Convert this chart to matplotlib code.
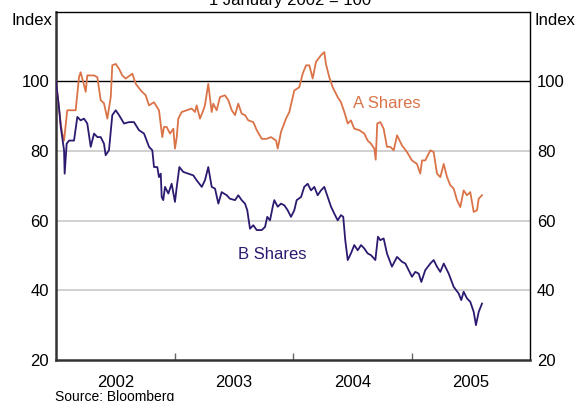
import numpy as np
import matplotlib
matplotlib.use('Agg')
import matplotlib.pyplot as plt

plt.rcParams['font.family'] = ['Liberation Sans', 'DejaVu Sans']

# dates as decimal years, values indexed to 1 Jan 2002 = 100
a_t = [2002.000, 2002.040, 2002.053, 2002.068, 2002.095, 2002.166, 2002.194, 2002.208,
       2002.251, 2002.264, 2002.321, 2002.349, 2002.377, 2002.405, 2002.433, 2002.462,
       2002.475, 2002.504, 2002.532, 2002.559, 2002.588, 2002.644, 2002.673, 2002.715,
       2002.757, 2002.785, 2002.827, 2002.869, 2002.897, 2002.911, 2002.934, 2002.962,
       2002.990, 2003.004, 2003.019, 2003.032, 2003.061, 2003.103, 2003.145, 2003.173,
       2003.187, 2003.215, 2003.243, 2003.257, 2003.285, 2003.300, 2003.314, 2003.327,
       2003.356, 2003.384, 2003.426, 2003.454, 2003.483, 2003.511, 2003.538, 2003.567,
       2003.595, 2003.623, 2003.665, 2003.694, 2003.736, 2003.778, 2003.814, 2003.857,
       2003.871, 2003.899, 2003.941, 2003.969, 2004.011, 2004.053, 2004.082, 2004.110,
       2004.138, 2004.166, 2004.194, 2004.236, 2004.264, 2004.278, 2004.306, 2004.335,
       2004.377, 2004.405, 2004.433, 2004.462, 2004.489, 2004.517, 2004.559, 2004.602,
       2004.630, 2004.658, 2004.686, 2004.698, 2004.711, 2004.737, 2004.765, 2004.793,
       2004.821, 2004.850, 2004.878, 2004.920, 2004.962, 2005.004, 2005.046, 2005.074,
       2005.089, 2005.116, 2005.159, 2005.187, 2005.215, 2005.243, 2005.272, 2005.300,
       2005.327, 2005.356, 2005.384, 2005.412, 2005.440, 2005.468, 2005.496, 2005.525,
       2005.553, 2005.567, 2005.595]
a_val = [100.0, 87.9, 85.0, 83.0, 91.7, 91.7, 101.2, 102.6,
         97.0, 101.7, 101.7, 101.2, 94.6, 93.7, 89.3, 95.5,
         104.6, 105.0, 103.6, 101.7, 100.8, 102.2, 99.3, 97.4,
         96.0, 93.1, 94.0, 91.7, 84.0, 86.9, 86.9, 85.0,
         86.4, 80.7, 84.0, 89.3, 91.2, 91.7, 92.2, 91.2,
         93.1, 89.3, 91.7, 93.1, 99.3, 95.0, 91.2, 93.6,
         91.7, 95.5, 96.0, 94.6, 91.7, 90.3, 93.6, 90.7,
         90.3, 88.8, 88.3, 86.0, 83.5, 83.5, 84.0, 83.0,
         80.7, 85.5, 89.3, 91.2, 97.4, 98.3, 102.2, 104.6,
         104.6, 100.8, 105.6, 107.5, 108.4, 105.0, 101.2, 98.3,
         95.5, 94.0, 91.2, 87.9, 88.8, 86.4, 86.0, 85.0,
         83.0, 82.1, 80.7, 77.5, 87.9, 88.3, 86.4, 81.2,
         81.2, 80.2, 84.5, 81.6, 79.7, 77.3, 76.3, 73.5,
         77.3, 77.3, 80.2, 79.7, 73.5, 72.5, 76.3, 72.5,
         70.2, 69.2, 65.9, 63.9, 68.7, 67.3, 68.2, 62.5,
         63.0, 66.3, 67.3]

b_t = [2002.000, 2002.025, 2002.040, 2002.068, 2002.073, 2002.090, 2002.110, 2002.152,
       2002.180, 2002.208, 2002.236, 2002.264, 2002.293, 2002.321, 2002.349, 2002.377,
       2002.405, 2002.419, 2002.447, 2002.475, 2002.504, 2002.532, 2002.574, 2002.616,
       2002.658, 2002.700, 2002.743, 2002.785, 2002.813, 2002.827, 2002.855, 2002.869,
       2002.884, 2002.892, 2002.905, 2002.920, 2002.948, 2002.976, 2003.004, 2003.019,
       2003.041, 2003.074, 2003.116, 2003.159, 2003.187, 2003.230, 2003.257, 2003.285,
       2003.314, 2003.342, 2003.370, 2003.398, 2003.441, 2003.468, 2003.511, 2003.538,
       2003.567, 2003.595, 2003.614, 2003.637, 2003.665, 2003.694, 2003.736, 2003.764,
       2003.783, 2003.806, 2003.829, 2003.842, 2003.871, 2003.899, 2003.927, 2003.955,
       2003.983, 2004.011, 2004.031, 2004.068, 2004.095, 2004.124, 2004.152, 2004.180,
       2004.208, 2004.236, 2004.264, 2004.293, 2004.321, 2004.349, 2004.377, 2004.405,
       2004.424, 2004.441, 2004.462, 2004.489, 2004.517, 2004.546, 2004.574, 2004.602,
       2004.630, 2004.658, 2004.695, 2004.717, 2004.737, 2004.765, 2004.793, 2004.835,
       2004.878, 2004.920, 2004.948, 2004.976, 2005.004, 2005.032, 2005.061, 2005.083,
       2005.116, 2005.159, 2005.187, 2005.215, 2005.243, 2005.272, 2005.314, 2005.356,
       2005.398, 2005.420, 2005.440, 2005.468, 2005.496, 2005.525, 2005.544, 2005.567,
       2005.595]
b_val = [100.0, 92.6, 86.9, 80.2, 73.5, 82.1, 83.0, 83.0,
         89.8, 88.8, 89.3, 87.9, 81.2, 85.0, 84.0, 84.0,
         82.1, 78.8, 80.2, 90.3, 91.7, 90.3, 87.9, 88.3,
         88.3, 86.0, 85.0, 81.2, 80.2, 75.4, 75.4, 72.5,
         73.5, 66.8, 65.9, 69.7, 67.8, 70.6, 65.4, 69.7,
         75.4, 74.0, 73.5, 73.0, 71.6, 69.7, 71.6, 75.4,
         69.7, 69.2, 64.9, 68.2, 67.3, 66.3, 65.9, 67.3,
         65.9, 64.9, 63.0, 57.7, 58.7, 57.3, 57.3, 58.2,
         61.1, 60.1, 64.0, 65.9, 64.0, 64.9, 64.4, 63.0,
         61.1, 63.0, 65.9, 66.8, 69.7, 70.6, 68.7, 69.7,
         67.3, 68.7, 69.7, 66.8, 64.0, 62.0, 60.1, 61.6,
         61.1, 54.4, 48.7, 50.6, 53.0, 51.5, 53.0, 52.0,
         50.6, 50.1, 48.7, 55.4, 54.4, 54.9, 50.6, 46.8,
         49.6, 48.2, 47.7, 45.8, 43.9, 45.3, 44.8, 42.4,
         45.8, 47.7, 48.7, 46.8, 45.3, 47.7, 44.8, 41.0,
         39.1, 37.2, 39.6, 37.7, 36.7, 33.8, 30.0, 33.8,
         36.2]

years = [2002, 2003, 2004, 2005]
yticks = [20, 40, 60, 80, 100]

a_col = '#DA7448'
b_col = '#2D1A70'

fig = plt.figure(figsize=(5.79, 4.01), dpi=100)
ax = fig.add_axes([56 / 579, 1 - 360 / 401, 474 / 579, 348.3 / 401])

ax.set_xlim(2002, 2006)
ax.set_ylim(20, 120)

for v in [40, 60, 80]:
    ax.axhline(v, color='#c8c8c8', lw=1.2, zorder=1)
ax.axhline(100, color='black', lw=1.0, zorder=1)

ax.plot(a_t, a_val, color=a_col, lw=1.3, zorder=3)
ax.plot(b_t, b_val, color=b_col, lw=1.3, zorder=3)

ax.text(2004.506, 93.7, 'A Shares', color=a_col, fontsize=12, ha='left', va='center')
ax.text(2003.823, 50.4, 'B Shares', color=b_col, fontsize=12, ha='center', va='center')

# year boundaries as ticks, labels centred in each year
ax.set_xticks([2003, 2004, 2005])
ax.set_xticklabels([])
ax.set_xticks([y + 0.5 for y in years], minor=True)
ax.set_xticklabels([str(y) for y in years], minor=True, fontsize=12)
ax.tick_params(axis='x', which='major', direction='in', length=5, color='#666666', width=1)
ax.tick_params(axis='x', which='minor', length=0, pad=11)

ax.set_yticks(yticks)
ax.set_yticklabels([str(v) for v in yticks], fontsize=12)
ax.tick_params(axis='y', length=0, pad=5, labelleft=True, labelright=True)

for s in ['left', 'bottom']:
    ax.spines[s].set_color('#333333')
    ax.spines[s].set_linewidth(1.8)
for s in ['top', 'right']:
    ax.spines[s].set_color('black')
    ax.spines[s].set_linewidth(1.0)

fig.text(52 / 579, 1 - 25 / 401, 'Index', fontsize=12, ha='right', va='baseline')
fig.text(535 / 579, 1 - 25 / 401, 'Index', fontsize=12, ha='left', va='baseline')
# title is partly cut by the top edge, as in the original
fig.text(290 / 579, 1 - 5 / 401, '1 January 2002 = 100', fontsize=12, ha='center', va='baseline')
fig.text(55 / 579, 1 - 400.5 / 401, 'Source: Bloomberg', fontsize=10, ha='left', va='baseline')

fig.savefig('out.png', dpi=100)
